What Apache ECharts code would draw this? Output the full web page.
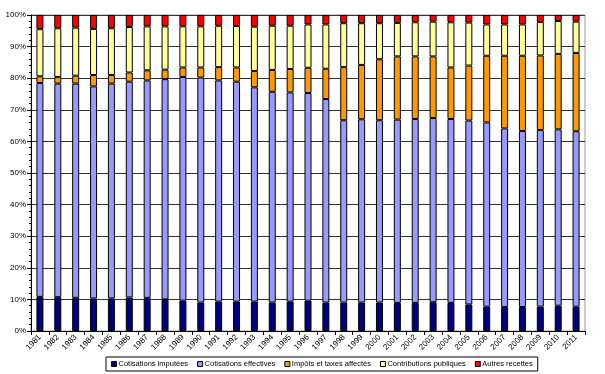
<!DOCTYPE html>
<html>
<head>
<meta charset="utf-8">
<script src="https://cdn.jsdelivr.net/npm/echarts@6/dist/echarts.min.js"></script>
<style>html,body{margin:0;padding:0;background:#fff;}#c{width:605px;height:374px;}</style>
</head>
<body>
<div id="c"></div>
<script>
var years = ['1981','1982','1983','1984','1985','1986','1987','1988','1989','1990','1991','1992','1993','1994','1995','1996','1997','1998','1999','2000','2001','2002','2003','2004','2005','2006','2007','2008','2009','2010','2011'];
var cotisationsImputees = [10.8,10.7,10.5,10.3,10.3,10.6,10.5,10.0,9.6,9.0,9.3,9.3,9.3,9.0,9.3,9.6,9.0,9.0,9.0,9.0,8.9,8.9,9.1,8.9,8.4,7.7,7.6,7.6,7.7,8.0,7.7];
var cotisationsEffectives = [67.7,67.6,67.8,67.1,68.0,68.3,68.8,69.7,70.8,71.2,70.0,69.6,67.8,66.7,66.2,65.7,64.4,57.7,58.0,57.7,58.0,58.2,58.3,58.2,58.2,58.3,56.5,55.7,55.9,55.8,55.5];
var impotsTaxes = [2.1,2.1,2.5,3.6,2.7,2.9,3.2,3.0,3.0,3.2,4.2,4.5,5.2,6.9,7.4,8.0,9.6,16.8,17.2,19.3,20.0,19.8,19.5,16.3,17.4,21.1,23.0,23.8,23.6,23.9,24.8];
var contributionsPubliques = [14.9,15.4,15.2,14.6,14.8,14.4,13.9,13.7,13.0,13.0,13.1,13.1,14.0,14.0,13.7,13.7,14.0,13.9,13.2,11.4,10.6,10.8,11.0,14.3,13.6,9.9,9.9,9.9,10.6,10.4,9.9];
var autresRecettes = [4.5,4.2,4.0,4.4,4.2,3.8,3.6,3.6,3.6,3.6,3.4,3.5,3.7,3.4,3.4,3.0,3.0,2.6,2.6,2.6,2.5,2.3,2.1,2.3,2.4,3.0,3.0,3.0,2.2,1.9,2.1];
var seriesNames = ['Cotisations imputées','Cotisations effectives','Impôts et taxes affectés','Contributions publiques','Autres recettes'];
var seriesColors = ['#000080','#9999FF','#FF9900','#FFFF99','#FF0000'];
var seriesData = [cotisationsImputees, cotisationsEffectives, impotsTaxes, contributionsPubliques, autresRecettes];

var font = 'Liberation Sans, Arial, sans-serif';
var chart = echarts.init(document.getElementById('c'), null, {renderer:'canvas'});
chart.setOption({
  animation: false,
  backgroundColor: '#fff',
  grid: {left: 31, width: 554, top: 15, height: 316, show: true, borderColor: '#999', borderWidth: 1, backgroundColor: 'transparent'},
  legend: {
    data: seriesNames,
    left: 106, top: 357,
    width: 520,
    itemWidth: 5, itemHeight: 5, itemGap: 9,
    icon: 'rect',
    padding: [3, 5, 3, 5],
    borderColor: '#000', borderWidth: 1,
    textStyle: {fontFamily: font, fontSize: 7.5, color: '#000', padding: [0,0,0,-3]},
    itemStyle: {borderColor: '#000', borderWidth: 1}
  },
  xAxis: {
    type: 'category', data: years, boundaryGap: true,
    axisLine: {lineStyle: {color: '#000', width: 1}},
    axisTick: {show: true, length: 4, lineStyle: {color: '#000'}},
    axisLabel: {rotate: 45, fontFamily: font, fontSize: 8, color: '#000', margin: 5, interval: 0}
  },
  yAxis: {
    type: 'value', min: 0, max: 100, interval: 10,
    axisLine: {show: true, lineStyle: {color: '#000', width: 1}},
    axisTick: {show: true, length: 4, inside: false, lineStyle: {color: '#000'}},
    minorTick: {show: true, splitNumber: 5, length: 2, lineStyle: {color: '#000'}},
    axisLabel: {formatter: '{value}%', fontFamily: font, fontSize: 8, color: '#000', margin: 5},
    splitLine: {show: true, lineStyle: {color: '#333', width: 1}}
  },
  series: seriesData.map(function (d, i) {
    return {
      name: seriesNames[i], type: 'bar', stack: 'total', data: d,
      barWidth: 7,
      itemStyle: {color: seriesColors[i], borderColor: '#000', borderWidth: 1}
    };
  })
});
</script>
</body>
</html>
